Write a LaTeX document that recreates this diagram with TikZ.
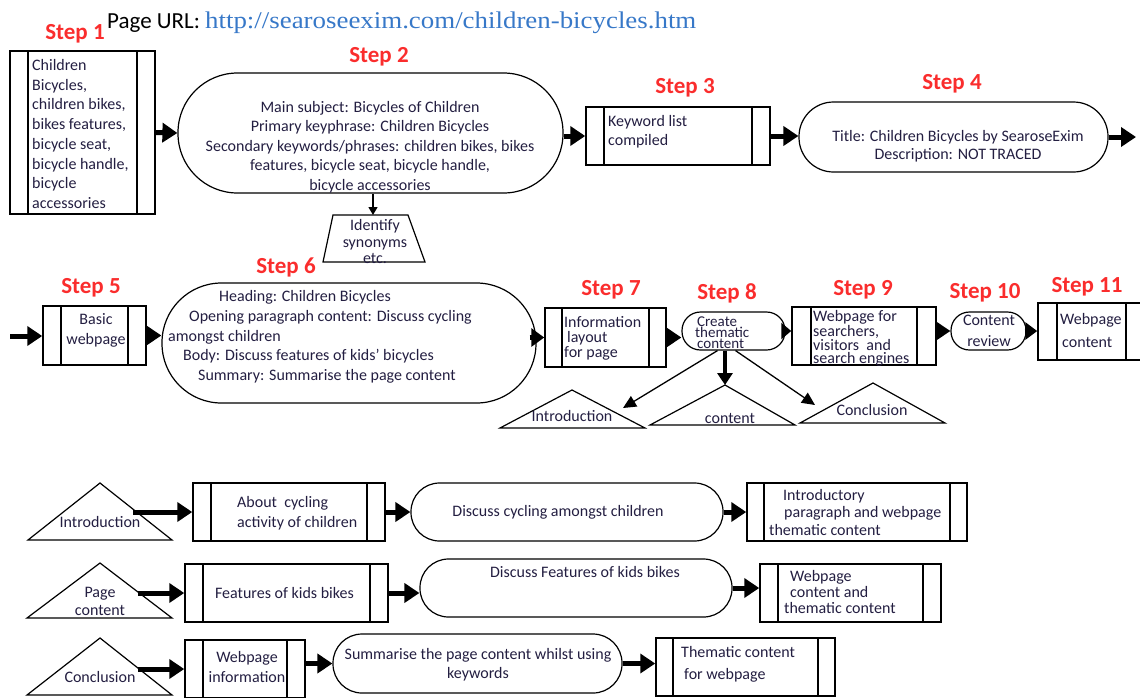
\documentclass[tikz,border=0pt]{standalone}
\usepackage{fontspec}
\setmainfont{Carlito}
\newfontfamily\urlfont{Liberation Serif}[FakeStretch=1.12]
\usetikzlibrary{arrows.meta}
\definecolor{tc}{RGB}{35,30,65}
\definecolor{stepred}{RGB}{250,45,45}
\definecolor{urlblue}{RGB}{55,120,200}
\begin{document}
\begin{tikzpicture}[x=1pt,y=-1pt,
  tx/.style={text=tc, inner sep=0pt, font=\fontsize{16}{#1}\selectfont},
  tx/.default=19.5,
  sz/.style n args={2}{minimum width=#1pt, minimum height=#2pt},
  proc/.style={draw, line width=1.5pt, inner sep=0pt,
    path picture={\draw[line width=1.5pt]
      ([xshift=#1]path picture bounding box.north west) -- ([xshift=#1]path picture bounding box.south west)
      ([xshift=-#1]path picture bounding box.north east) -- ([xshift=-#1]path picture bounding box.south east);}},
  proc/.default=18pt,
  stad/.style={draw, line width=1.2pt, inner sep=0pt, rounded corners=#1},
  shp/.style={draw, line width=1.2pt, line join=miter},
  steplbl/.style={text=stepred, inner sep=0pt, font=\fontsize{23}{26}\selectfont\bfseries},
  big/.style={line width=5pt, -{Triangle[length=15pt,width=19pt]}},
  thin/.style={line width=1.3pt, -{Triangle[length=13pt,width=12pt]}},
  small/.style={line width=1.3pt, -{Triangle[length=8pt,width=9pt]}},
  mid/.style={line width=4pt, -{Triangle[length=12pt,width=15pt]}}]
\useasboundingbox (0,0) rectangle (1140,697);

% title
\node[anchor=base west, inner sep=0pt, font=\fontsize{23}{26}\selectfont] (title) at (107,28)
  {Page URL: {\urlfont\fontsize{24}{28}\selectfont\color{urlblue}http://searoseexim.com/children-bicycles.htm}};

% step labels
\node[steplbl] (st1) at (75,34) {Step 1};
\node[steplbl] (st2) at (379,57) {Step 2};
\node[steplbl] (st3) at (685,88) {Step 3};
\node[steplbl] (st4) at (952,84) {Step 4};
\node[steplbl] (st5) at (91,288) {Step 5};
\node[steplbl] (st6) at (286,267) {Step 6};
\node[steplbl] (st7) at (611,290) {Step 7};
\node[steplbl] (st8) at (727,293) {Step 8};
\node[steplbl] (st9) at (863,290) {Step 9};
\node[steplbl] (st10) at (985,293) {Step 10};
\node[steplbl] (st11) at (1087,287) {Step 11};

% row 1 shapes
\node[proc=18pt, sz={145}{163}] (s1) at (82.5,132.5) {};
\node[stad=59.5pt, sz={385}{120}] (s2) at (370.5,133) {};
\node[proc=18pt, sz={184}{58}] (s3) at (678,136) {};
\node[stad=34.5pt, sz={309}{70}] (s4) at (953.5,137) {};
\coordinate (syn-tl) at (333,215);
\coordinate (syn-tr) at (408,215);
\coordinate (syn-br) at (425,262);
\coordinate (syn-bl) at (323,262);
\coordinate (syn-top) at (373,215);
\draw[shp] (syn-tl) -- (syn-tr) -- (syn-br) -- (syn-bl) -- cycle;

% row 2 shapes
\node[proc=18pt, sz={103}{59}] (s5) at (94.5,335.5) {};
\node[stad=59.5pt, sz={374}{120}] (s6) at (349,343) {};
\node[proc=17pt, sz={121}{59}] (s7) at (605.5,337.5) {};
\node[stad=18.5pt, sz={103}{38}] (s8) at (733.5,331) {};
\node[proc=19pt, sz={144}{58}] (s9) at (864,336) {};
\node[stad=18.5pt, sz={75}{38}] (s10) at (988.5,331) {};
\node[proc=19pt, sz={107}{57}] (s11) at (1091.5,331.5) {};

% row 2 triangles
\coordinate (tI-a) at (572,390); \coordinate (tI-l) at (500,428); \coordinate (tI-r) at (645,428);
\coordinate (tC-a) at (725,385); \coordinate (tC-l) at (650,425); \coordinate (tC-r) at (795,425);
\coordinate (tK-a) at (873,383); \coordinate (tK-l) at (800,423); \coordinate (tK-r) at (945,423);
\draw[shp] (tI-a) -- (tI-r) -- (tI-l) -- cycle;
\draw[shp] (tC-a) -- (tC-r) -- (tC-l) -- cycle;
\draw[shp] (tK-a) -- (tK-r) -- (tK-l) -- cycle;
\coordinate (tI-tip) at (623,408);
\coordinate (tK-tip) at (815,405);

% bottom triangles
\coordinate (tA-a) at (100,483); \coordinate (tA-l) at (28,540); \coordinate (tA-r) at (172,540);
\coordinate (tB-a) at (100,563); \coordinate (tB-l) at (27,618); \coordinate (tB-r) at (172,618);
\coordinate (tQ-a) at (100,638); \coordinate (tQ-l) at (27,695); \coordinate (tQ-r) at (172,695);
\draw[shp] (tA-a) -- (tA-r) -- (tA-l) -- cycle;
\draw[shp] (tB-a) -- (tB-r) -- (tB-l) -- cycle;
\draw[shp] (tQ-a) -- (tQ-r) -- (tQ-l) -- cycle;
\coordinate (tA-out) at (133,512);
\coordinate (tB-out) at (138,593);
\coordinate (tQ-out) at (138,669);

% bottom rows shapes
\node[proc=18pt, sz={192}{58}] (bA1) at (289,512) {};
\node[stad=28.5pt, sz={312}{58}] (bA2) at (567,512) {};
\node[proc=17pt, sz={220}{58}] (bA3) at (857,512) {};
\node[proc=18pt, sz={203}{58}] (bB1) at (286.5,593) {};
\node[stad=28.5pt, sz={312}{58}] (bB2) at (576,588) {};
\node[proc=18pt, sz={181}{58}] (bB3) at (850.5,593) {};
\node[proc=18pt, sz={120}{58}] (bC1) at (245,669) {};
\node[stad=29pt, sz={289}{59}] (bC2) at (477.5,663.5) {};
\node[proc=17pt, sz={179}{58}] (bC3) at (745.5,667) {};

% texts
\node[tx=19.7, anchor=west, align=left] (s1t) at (32,134) {Children\\Bicycles,\\children bikes,\\bikes features,\\bicycle seat,\\bicycle handle,\\bicycle\\accessories};
\node[tx=19.5, align=center] (s2t) at (370,147) {Main subject: Bicycles of Children\\Primary keyphrase: Children Bicycles\\Secondary keywords/phrases: children bikes, bikes\\features, bicycle seat, bicycle handle,\\bicycle accessories};
\node[tx=19, anchor=west, align=left] (s3t) at (608,131.5) {Keyword list\\compiled};
\node[tx=18, align=center] (s4t) at (958,146) {Title: Children Bicycles by SearoseExim\\Description: NOT TRACED};
\node[tx=16.5, align=center] (synt) at (375,242) {Identify\\synonyms\\etc.};
\node[tx=20, align=center] (s5t) at (96,330) {Basic\\webpage};
\node[tx=19.75, anchor=west, align=left] (s6t) at (168,337) {\hspace*{51pt}Heading: Children Bicycles\\\hspace*{21pt}Opening paragraph content: Discuss cycling\\amongst children\\\hspace*{15pt}Body: Discuss features of kids’ bicycles\\\hspace*{30pt}Summary: Summarise the page content};
\node[tx=15, anchor=west, align=left] (s7t) at (564,338) {Information\\\hspace*{3pt}layout\\for page};
\node[tx, font=\fontsize{15}{10.5}\selectfont, anchor=west, align=left] (s8t) at (695,332.5) {\hspace*{2pt}Create\\thematic\\\hspace*{2pt}content};
\node[tx=12.7, anchor=west, align=left] (s9t) at (813,338) {Webpage for\\searchers,\\visitors~ and\\search engines};
\node[tx=21, align=center] (s10t) at (989,330.5) {Content\\review};
\node[tx=23, anchor=west, align=left] (s11t) at (1060,330.5) {Webpage\\\hspace*{2pt}content};
\node[tx] (tIt) at (572,416) {Introduction};
\node[tx] (tCt) at (730,418) {content};
\node[tx] (tKt) at (872,410) {Conclusion};
\node[tx] (tAt) at (100,522) {Introduction};
\node[tx=18, align=center] (tBt) at (100,601) {Page\\content};
\node[tx] (tQt) at (100,677) {Conclusion};
\node[tx=20, anchor=west, align=left] (bA1t) at (237,513) {About~ cycling\\activity of children};
\node[tx] (bA2t) at (558,512) {Discuss cycling amongst children};
\node[tx=17.5, anchor=west, align=left] (bA3t) at (769,512) {\hspace*{14pt}Introductory\\\hspace*{15pt}paragraph and webpage\\thematic content};
\node[tx] (bB1t) at (284.5,593) {Features of kids bikes};
\node[tx] (bB2t) at (585,572) {Discuss Features of kids bikes};
\node[tx=16, anchor=west, align=left] (bB3t) at (784,592) {\hspace*{6pt}Webpage\\\hspace*{6pt}content and\\thematic content};
\node[tx=20, align=center] (bC1t) at (247,667) {Webpage\\information};
\node[tx=19, align=center] (bC2t) at (478,664.5) {Summarise the page content whilst using\\keywords};
\node[tx=22, anchor=west, align=left] (bC3t) at (681,664) {Thematic content\\\hspace*{3pt}for webpage};

% connectors row 1
\draw[big] (s1.east) -- (s2.west);
\draw[big] (s2.east |- s3.west) -- (s3.west);
\draw[big] (s3.east) -- (s3.east -| s4.west);
\coordinate (out4) at (1136,137);
\draw[big] (s4.east) -- (out4);
\draw[small] (s2.south -| syn-top) -- (syn-top);

% connectors row 2
\coordinate (in5) at (10,336);
\draw[big] (in5) -- (in5 -| s5.west);
\draw[big] (s5.east) -- (s5.east -| s6.west);
\draw[big, -{Triangle[length=13pt,width=18pt]}] ([xshift=-7pt]s6.east |- s7.west) -- (s7.west);
\draw[big] (s7.east) -- (s7.east -| s8.west);
\draw[big, -{Triangle[length=10pt,width=16pt]}] ([xshift=-4pt]s8.east) -- (s8.east -| s9.west);
\draw[big] (s9.east |- s10.west) -- (s10.west);
\draw[big, -{Triangle[length=12pt,width=17pt]}] ([xshift=-2pt]s10.east) -- (s10.east -| s11.west);
\draw[thin] ([xshift=-16pt]s8.south) -- (tI-tip);
\draw[mid] (s8.south -| tC-a) -- (tC-a);
\draw[thin] ([xshift=2pt]s8.south) -- (tK-tip);

% connectors bottom
\draw[big] (tA-out) -- (tA-out -| bA1.west);
\draw[big] (bA1.east) -- (bA2.west);
\draw[big] (bA2.east) -- (bA3.west);
\draw[big] (tB-out) -- (tB-out -| bB1.west);
\draw[big] (bB1.east) -- (bB1.east -| bB2.west);
\draw[big] (bB2.east) -- (bB2.east -| bB3.west);
\draw[big] (tQ-out) -- (tQ-out -| bC1.west);
\draw[big] (bC1.east |- bC2.west) -- (bC2.west);
\draw[big] (bC2.east) -- (bC2.east -| bC3.west);
\end{tikzpicture}
\end{document}
